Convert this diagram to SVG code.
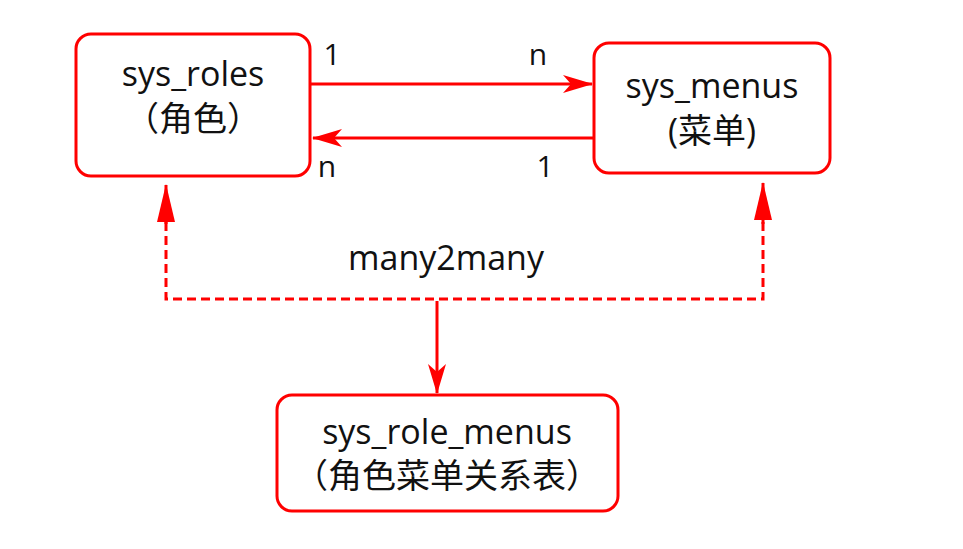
<svg xmlns="http://www.w3.org/2000/svg" width="963" height="549" viewBox="0 0 963 549">
<style>
.box{fill:#fff;stroke:#ff0000;stroke-width:3}
.t{font-family:"Open Sans","Noto Sans CJK SC",sans-serif;font-size:34px;fill:#111;text-anchor:middle}
.lbl{font-family:"Open Sans","Noto Sans CJK SC",sans-serif;font-size:30px;fill:#111;text-anchor:middle}
.ln{fill:none;stroke:#ff0000;stroke-width:3}
.dash{fill:none;stroke:#ff0000;stroke-width:3;stroke-dasharray:9 5}
</style>
<defs>
<marker id="ah" viewBox="0 0 30 18" refX="29" refY="9" markerWidth="30" markerHeight="18" markerUnits="userSpaceOnUse" orient="auto">
<path d="M0,0 L30,9 L0,18 L8,9 Z" fill="#ff0000"/>
</marker>
<marker id="ah2" viewBox="0 0 38 18" refX="37" refY="9" markerWidth="38" markerHeight="18" markerUnits="userSpaceOnUse" orient="auto">
<path d="M0,0 L38,9 L0,18 Z" fill="#ff0000"/>
</marker>
</defs>
<rect width="963" height="549" fill="#fff"/>
<g id="connectors">
<line class="ln" x1="311" y1="84" x2="592" y2="84" marker-end="url(#ah)"/>
<line class="ln" x1="594" y1="138" x2="313" y2="138" marker-end="url(#ah)"/>
<polyline class="dash" points="166,222 166,299 763,299 763,222"/>
<line class="ln" x1="166" y1="224" x2="166" y2="185" marker-end="url(#ah2)"/>
<line class="ln" x1="763" y1="224" x2="763" y2="183" marker-end="url(#ah2)"/>
<line class="ln" x1="437" y1="301" x2="437" y2="393" marker-end="url(#ah)"/>
<text class="lbl" x="332" y="65">1</text>
<text class="lbl" x="538" y="65">n</text>
<text class="lbl" x="327" y="177">n</text>
<text class="lbl" x="545" y="177">1</text>
<text class="t" x="446" y="270">many2many</text>
</g>
<g id="sys_roles">
<rect class="box" x="76" y="34" width="234" height="142" rx="15"/>
<text class="t" x="193" y="86">sys_roles</text>
<text class="t" x="193" y="131">（角色）</text>
</g>
<g id="sys_menus">
<rect class="box" x="594" y="43" width="236" height="130" rx="15"/>
<text class="t" x="712" y="98">sys_menus</text>
<text class="t" x="712" y="143">(菜单)</text>
</g>
<g id="sys_role_menus">
<rect class="box" x="277" y="395" width="341" height="116" rx="15"/>
<text class="t" x="447" y="444">sys_role_menus</text>
<text class="t" x="447" y="488">（角色菜单关系表）</text>
</g>
</svg>
